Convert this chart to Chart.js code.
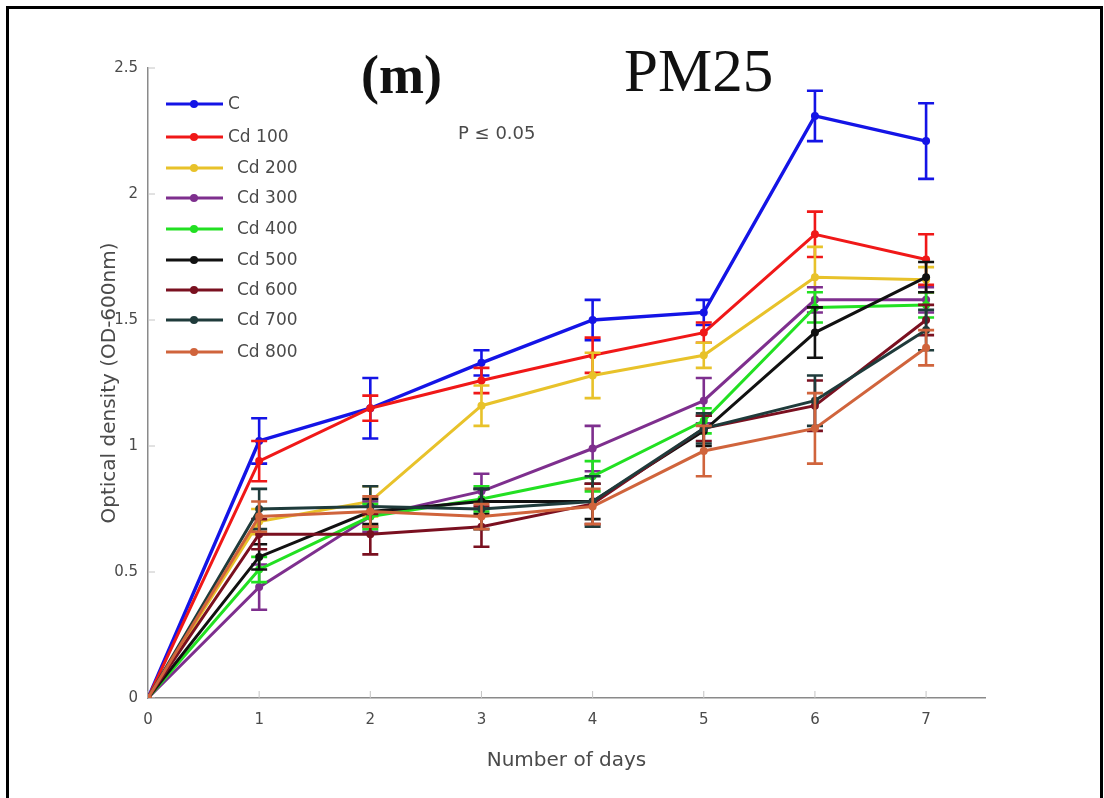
<!DOCTYPE html>
<html>
<head>
<meta charset="utf-8">
<title>PM25 growth curves</title>
<script src="https://cdn.jsdelivr.net/npm/chart.js@4.4.0/dist/chart.umd.min.js"></script>
<style>
  html, body { margin: 0; padding: 0; background: #fff; }
  #wrap { position: relative; width: 1104px; height: 798px; overflow: hidden; }
  #frame { position: absolute; left: 6px; top: 6px; width: 1091px; height: 830px; border: 3px solid #000; pointer-events: none; }
  canvas { display: block; }
</style>
</head>
<body>
<div id="wrap">
  <canvas id="growthChart" width="1104" height="798"></canvas>
  <div id="frame"></div>
</div>
<script>
// Days on the x axis and tick labels
const days = [0, 1, 2, 3, 4, 5, 6, 7];
const xTicks = [0, 1, 2, 3, 4, 5, 6, 7];
const yTicks = [0, 0.5, 1, 1.5, 2, 2.5];
const yTickLabels = ['0', '0.5', '1', '1.5', '2', '2.5'];

// Series names and colours
const seriesNames = ['C', 'Cd 100', 'Cd 200', 'Cd 300', 'Cd 400', 'Cd 500', 'Cd 600', 'Cd 700', 'Cd 800'];
const seriesColors = ['#1414e6', '#f01818', '#e8c22a', '#7e2f8e', '#22e022', '#111111', '#7a1020', '#1f3b3b', '#d0643c'];

// Mean optical density per day
const odC     = [0, 1.02, 1.15, 1.33, 1.50, 1.53, 2.31, 2.21];
const odCd100 = [0, 0.94, 1.15, 1.26, 1.36, 1.45, 1.84, 1.74];
const odCd200 = [0, 0.70, 0.78, 1.16, 1.28, 1.36, 1.67, 1.66];
const odCd300 = [0, 0.44, 0.72, 0.82, 0.99, 1.18, 1.58, 1.58];
const odCd400 = [0, 0.51, 0.72, 0.79, 0.88, 1.10, 1.55, 1.56];
const odCd500 = [0, 0.56, 0.74, 0.78, 0.78, 1.06, 1.45, 1.67];
const odCd600 = [0, 0.65, 0.65, 0.68, 0.77, 1.07, 1.16, 1.50];
const odCd700 = [0, 0.75, 0.76, 0.75, 0.78, 1.07, 1.18, 1.46];
const odCd800 = [0, 0.72, 0.74, 0.72, 0.76, 0.98, 1.07, 1.39];

// Error bar half-lengths
const errC     = [0, 0.09, 0.12, 0.05, 0.08, 0.05, 0.10, 0.15];
const errCd100 = [0, 0.08, 0.05, 0.05, 0.07, 0.04, 0.09, 0.10];
const errCd200 = [0, 0.05, 0.06, 0.08, 0.09, 0.05, 0.12, 0.05];
const errCd300 = [0, 0.09, 0.06, 0.07, 0.09, 0.09, 0.05, 0.05];
const errCd400 = [0, 0.05, 0.05, 0.05, 0.06, 0.05, 0.06, 0.05];
const errCd500 = [0, 0.05, 0.05, 0.05, 0.07, 0.06, 0.10, 0.06];
const errCd600 = [0, 0.06, 0.08, 0.08, 0.08, 0.05, 0.10, 0.06];
const errCd700 = [0, 0.08, 0.08, 0.08, 0.10, 0.06, 0.10, 0.08];
const errCd800 = [0, 0.06, 0.06, 0.05, 0.07, 0.10, 0.14, 0.07];

const seriesValues = [odC, odCd100, odCd200, odCd300, odCd400, odCd500, odCd600, odCd700, odCd800];
const seriesErrors = [errC, errCd100, errCd200, errCd300, errCd400, errCd500, errCd600, errCd700, errCd800];

const textGray = '#4a4a4a';
const axisGray = '#8a8a8a';

const datasets = seriesNames.map((name, i) => ({
    label: name,
    data: days.map((d, j) => ({ x: d, y: seriesValues[i][j] })),
    errors: seriesErrors[i],
    borderColor: seriesColors[i],
    backgroundColor: seriesColors[i],
    pointBackgroundColor: seriesColors[i],
    pointBorderWidth: 0,
    pointRadius: 4,
    borderWidth: i === 0 ? 3.4 : 3,
    tension: 0,
    order: seriesNames.length - i
}));

// Vertical error bars with caps, drawn right after each line
const errorBars = {
    id: 'errorBars',
    afterDatasetDraw(chart, args) {
        const ds = chart.data.datasets[args.index];
        const yScale = chart.scales.y;
        const ctx = chart.ctx;
        ctx.save();
        ctx.strokeStyle = ds.borderColor;
        ctx.lineWidth = 2.6;
        args.meta.data.forEach((pt, j) => {
            const e = ds.errors[j];
            if (!e) return;
            const v = ds.data[j].y;
            const top = yScale.getPixelForValue(v + e);
            const bot = yScale.getPixelForValue(v - e);
            ctx.beginPath();
            ctx.moveTo(pt.x, top);
            ctx.lineTo(pt.x, bot);
            ctx.moveTo(pt.x - 8, top);
            ctx.lineTo(pt.x + 8, top);
            ctx.moveTo(pt.x - 8, bot);
            ctx.lineTo(pt.x + 8, bot);
            ctx.stroke();
        });
        ctx.restore();
    }
};

// Inward tick marks, panel titles, significance note and legend
const decorations = {
    id: 'decorations',
    beforeDatasetsDraw(chart) {
        const { ctx, chartArea, scales } = chart;
        ctx.save();
        ctx.strokeStyle = '#c4c4c4';
        ctx.lineWidth = 1;
        xTicks.forEach(v => {
            const x = scales.x.getPixelForValue(v);
            ctx.beginPath();
            ctx.moveTo(x, chartArea.bottom);
            ctx.lineTo(x, chartArea.bottom - 7);
            ctx.stroke();
        });
        yTicks.forEach(v => {
            const y = scales.y.getPixelForValue(v);
            ctx.beginPath();
            ctx.moveTo(chartArea.left, y);
            ctx.lineTo(chartArea.left + 7, y);
            ctx.stroke();
        });
        ctx.restore();
    },
    afterDraw(chart) {
        const ctx = chart.ctx;
        ctx.save();
        ctx.fillStyle = '#111';
        ctx.textBaseline = 'alphabetic';
        ctx.textAlign = 'left';
        ctx.font = 'bold 54px "Liberation Serif", "Times New Roman", serif';
        ctx.fillText('(m)', 361, 93);
        ctx.font = '61px "Liberation Serif", "Times New Roman", serif';
        ctx.fillText('PM25', 624, 91);

        ctx.fillStyle = textGray;
        ctx.font = '18px "DejaVu Sans", sans-serif';
        ctx.textBaseline = 'middle';
        ctx.fillText('P \u2264 0.05', 458, 134);

        // Legend
        const rowY = [104, 137, 168, 198, 229, 260, 290, 320, 352];
        ctx.font = '17px "DejaVu Sans", sans-serif';
        chart.data.datasets.forEach((ds, i) => {
            const y = rowY[i];
            ctx.strokeStyle = ds.borderColor;
            ctx.lineWidth = 3;
            ctx.beginPath();
            ctx.moveTo(166, y);
            ctx.lineTo(223, y);
            ctx.stroke();
            ctx.fillStyle = ds.borderColor;
            ctx.beginPath();
            ctx.arc(194, y, 4, 0, Math.PI * 2);
            ctx.fill();
            ctx.fillStyle = textGray;
            ctx.fillText(ds.label, i < 2 ? 228 : 237, y + 1);
        });
        ctx.restore();
    }
};

const ctx = document.getElementById('growthChart').getContext('2d');
new Chart(ctx, {
    type: 'line',
    data: { datasets: datasets },
    options: {
        responsive: false,
        animation: false,
        devicePixelRatio: 1,
        layout: { padding: { left: 8, top: 68, right: 119, bottom: 0 } },
        plugins: {
            legend: { display: false },
            tooltip: { enabled: false }
        },
        scales: {
            x: {
                type: 'linear',
                min: 0,
                max: 7.53,
                afterBuildTicks: axis => { axis.ticks = xTicks.map(v => ({ value: v })); },
                afterFit: axis => { axis.height = 100; },
                grid: { display: false, drawTicks: false },
                border: { display: true, color: axisGray, width: 1.5 },
                ticks: {
                    color: textGray,
                    padding: 13,
                    font: { family: '"DejaVu Sans", sans-serif', size: 15 },
                    callback: v => String(v)
                },
                title: {
                    display: true,
                    text: 'Number of days',
                    color: textGray,
                    font: { family: '"DejaVu Sans", sans-serif', size: 20 },
                    padding: { top: 0, bottom: 25 }
                }
            },
            y: {
                min: 0,
                max: 2.5,
                afterBuildTicks: axis => { axis.ticks = yTicks.map(v => ({ value: v })); },
                afterFit: axis => { axis.width = 140; },
                grid: { display: false, drawTicks: false },
                border: { display: true, color: axisGray, width: 1.5 },
                ticks: {
                    color: textGray,
                    padding: 10,
                    font: { family: '"DejaVu Sans", sans-serif', size: 15 },
                    callback: v => yTickLabels[yTicks.indexOf(v)]
                },
                title: {
                    display: true,
                    text: 'Optical density (OD-600nm)',
                    color: textGray,
                    font: { family: '"DejaVu Sans", sans-serif', size: 20 },
                    padding: { top: 90, bottom: 0 }
                }
            }
        }
    },
    plugins: [errorBars, decorations]
});
</script>
</body>
</html>
